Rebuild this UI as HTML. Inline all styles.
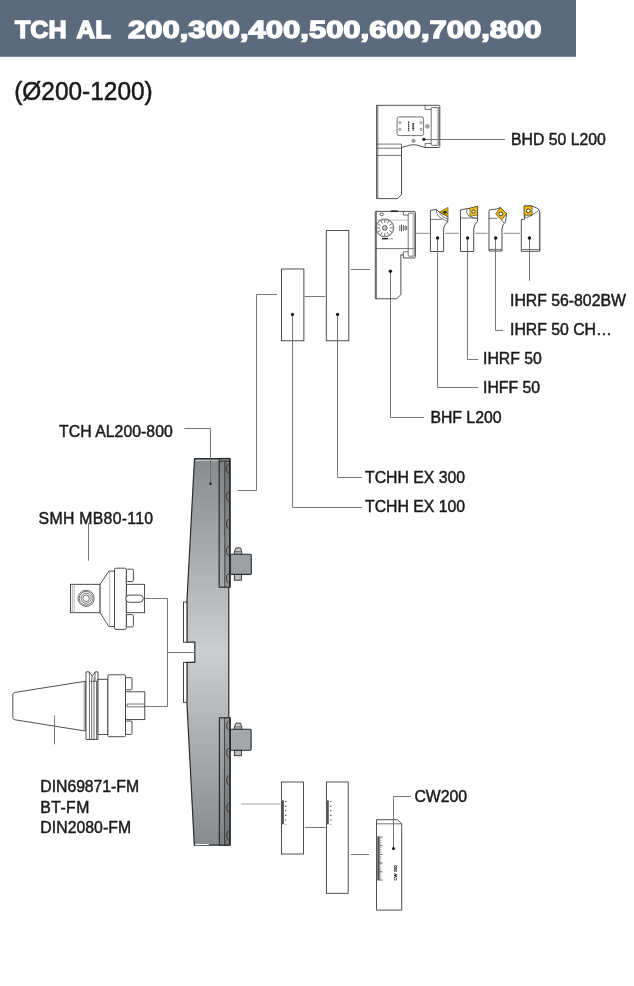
<!DOCTYPE html>
<html>
<head>
<meta charset="utf-8">
<title>TCH AL</title>
<style>
html,body{margin:0;padding:0;background:#fff;}
body{width:634px;height:986px;overflow:hidden;position:relative;font-family:"Liberation Sans",sans-serif;}
svg{will-change:transform;position:absolute;left:0;top:0;display:block;}
text{font-family:"Liberation Sans",sans-serif;}
.lbl{font-size:15.8px;fill:#1a1a1a;stroke:#1a1a1a;stroke-width:0.45px;}
.ln{stroke:#6a6a6a;stroke-width:0.9;fill:none;}
.lg{stroke:#a4a4a4;stroke-width:1.2;fill:none;}
.ol{stroke:#303030;stroke-width:0.85;fill:#fff;}
.ot{stroke:#3a3a3a;stroke-width:0.7;fill:none;}
.dot{fill:#1a1a1a;stroke:none;}
</style>
</head>
<body>
<svg width="634" height="986" viewBox="0 0 634 986">
<defs>
<linearGradient id="gBody" x1="0" y1="458" x2="0" y2="846" gradientUnits="userSpaceOnUse">
<stop offset="0" stop-color="#878b8e"/>
<stop offset="0.5" stop-color="#cbcdce"/>
<stop offset="1" stop-color="#878b8e"/>
</linearGradient>
<linearGradient id="gPlateT" x1="0" y1="458" x2="0" y2="588" gradientUnits="userSpaceOnUse">
<stop offset="0" stop-color="#7d8184"/>
<stop offset="1" stop-color="#a9acae"/>
</linearGradient>
<linearGradient id="gPlateB" x1="0" y1="718" x2="0" y2="846" gradientUnits="userSpaceOnUse">
<stop offset="0" stop-color="#a9acae"/>
<stop offset="1" stop-color="#7d8184"/>
</linearGradient>
</defs>

<!-- HEADER -->
<rect x="0" y="0" width="576" height="56.8" fill="#5b6b7d"/>
<g id="hdr" font-size="23" font-weight="bold" fill="#fff" stroke="#fff" stroke-width="1.3" stroke-linejoin="miter">
<text x="15" y="37.7" textLength="51.6" lengthAdjust="spacingAndGlyphs">TCH</text>
<text x="76.6" y="37.7" textLength="34.4" lengthAdjust="spacingAndGlyphs">AL</text>
<text x="128" y="37.7" font-size="23.6" textLength="413.5" lengthAdjust="spacingAndGlyphs">200,300,400,500,600,700,800</text>
</g>
<text id="sub" x="14.2" y="100.1" font-size="25.2" fill="#1a1a1a" stroke="#1a1a1a" stroke-width="0.5" textLength="138.5" lengthAdjust="spacingAndGlyphs">(Ø200-1200)</text>

<!-- LABELS -->
<g class="lbl">
<text x="511" y="144.7">BHD 50 L200</text>
<text x="510" y="306.3">IHRF 56-802BW</text>
<text x="510" y="335.2">IHRF 50 CH…</text>
<text x="483" y="364.0">IHRF 50</text>
<text x="483" y="392.7">IHFF 50</text>
<text x="430.4" y="423.3">BHF L200</text>
<text x="365" y="483.0">TCHH EX 300</text>
<text x="365" y="512.0">TCHH EX 100</text>
<text x="59" y="437.2" textLength="113.8" lengthAdjust="spacing">TCH AL200-800</text>
<text x="38.6" y="523.8" textLength="114.5" lengthAdjust="spacing">SMH MB80-110</text>
<text x="40.3" y="791.9" textLength="98.8" lengthAdjust="spacing">DIN69871-FM</text>
<text x="40.3" y="812.5" textLength="49" lengthAdjust="spacing">BT-FM</text>
<text x="40.3" y="832.8" textLength="90.8" lengthAdjust="spacing">DIN2080-FM</text>
<text x="414.4" y="802.1">CW200</text>
</g>

<!-- MAIN DISK -->
<g id="disk">
<path d="M194.5 458.6H228.8V845.1H194.3L186.9 702.5V662.3H194.8V642.1H186.9V602Z" fill="url(#gBody)" stroke="#2b2b2b" stroke-width="1.2"/>
<rect x="183.5" y="602" width="3.4" height="40.2" fill="#fff" stroke="#2b2b2b" stroke-width="0.9"/>
<rect x="183.5" y="662.5" width="3.4" height="39.8" fill="#fff" stroke="#2b2b2b" stroke-width="0.9"/>
<rect x="219.2" y="458.5" width="10.6" height="128.7" fill="url(#gPlateT)" stroke="#2b2b2b" stroke-width="1.2"/>
<rect x="224.8" y="461" width="5" height="126.2" fill="#000" fill-opacity="0.1" stroke="none"/>
<path d="M224.8 461V587.2M219.2 461H229" stroke="#2b2b2b" stroke-width="0.8" fill="none"/>
<path d="M229.9 459V587.2" stroke="#2b2b2b" stroke-width="1.6" fill="none"/>
<path d="M195.5 460.6H218.5" stroke="#c4c6c7" stroke-width="1" fill="none"/>
<rect x="219.4" y="717.8" width="10.6" height="127.4" fill="url(#gPlateB)" stroke="#2b2b2b" stroke-width="1.2"/>
<rect x="224.6" y="717.8" width="5.4" height="127.4" fill="#000" fill-opacity="0.1" stroke="none"/>
<path d="M224.6 717.8V845.2" stroke="#2b2b2b" stroke-width="0.8" fill="none"/>
<path d="M230.1 717.8V845.2" stroke="#2b2b2b" stroke-width="1.4" fill="none"/>
<path d="M195.2 844.5H208.8" stroke="#fff" stroke-width="1" fill="none"/>
<g stroke="#2b2b2b" stroke-width="0.9" fill="none">
<path d="M229.4 464.2A2.9 4.6 0 0 0 229.4 473.4M229.4 491.9A2.9 4.6 0 0 0 229.4 501.1M229.4 519.2A2.9 4.6 0 0 0 229.4 528.4M229.4 546.2A2.9 4.6 0 0 0 229.4 555.4M229.4 573.7A2.9 4.6 0 0 0 229.4 582.9"/>
<path d="M229.6 720.9A2.9 4.6 0 0 0 229.6 730.1M229.6 748.2A2.9 4.6 0 0 0 229.6 757.4M229.6 775.7A2.9 4.6 0 0 0 229.6 784.9M229.6 803.2A2.9 4.6 0 0 0 229.6 812.4M229.6 830.6A2.9 4.6 0 0 0 229.6 839.8"/>
</g>
<!-- blocks -->
<path d="M236 547.9H240.5L241.8 551.8V554.3H234.3V551.8Z" fill="#c6c8c9" stroke="#2b2b2b" stroke-width="0.9"/>
<path d="M235 551.8H241.2" stroke="#2b2b2b" stroke-width="0.7" fill="none"/>
<rect x="234.4" y="574.3" width="7" height="5.9" fill="#b9bbbd" stroke="#2b2b2b" stroke-width="0.9"/>
<rect x="230.4" y="554.3" width="20.9" height="20.1" rx="1.2" fill="#9da1a4" stroke="#2b2b2b" stroke-width="1.1"/>
<path d="M236 723.2H240.5L241.8 726.9V729.3H234.3V726.9Z" fill="#c6c8c9" stroke="#2b2b2b" stroke-width="0.9"/>
<path d="M235 726.9H241.2" stroke="#2b2b2b" stroke-width="0.7" fill="none"/>
<rect x="234.4" y="750.2" width="7" height="5.5" fill="#b9bbbd" stroke="#2b2b2b" stroke-width="0.9"/>
<rect x="230.4" y="729.2" width="20.7" height="21" rx="1.2" fill="#a5a8ab" stroke="#2b2b2b" stroke-width="1.1"/>
</g>

<!-- TCHH rectangles -->
<g class="ol">
<rect x="281.5" y="269" width="22.4" height="71.8"/>
<rect x="326.3" y="230.4" width="22.5" height="110.4"/>
<rect x="281.4" y="782" width="22.1" height="72"/>
<rect x="326.4" y="782" width="21.8" height="111.3"/>
</g>


<!-- BHD 50 L200 -->
<g id="bhd">
<path d="M376.6 105.3H438.8Q439.8 105.3 439.8 106.3V146.5Q439.8 147.5 438.8 147.5H424.9L421 146.3Q413.5 143.2 406 146.3L401.5 147.5V194.5L397.5 198.6H376.6Z" class="ol"/>
<path d="M377.8 105.3V198.6" class="ot" stroke-width="0.6"/>
<path d="M376.6 144.1H401.5M376.6 148.2H401.5M376.6 155.4H401.5" class="ot"/>
<path d="M401.5 147.5V144.1" class="ot"/>
<path d="M425.1 105.3V109.4H431.2M425.1 147.5V143.4H431.2" class="ot"/>
<rect x="431.2" y="107.5" width="7.6" height="37.8" class="ot" rx="0.8"/>
<path d="M437.4 108V145" stroke="#9a9a9a" stroke-width="0.6" fill="none"/>
<rect x="397.1" y="116.9" width="26.5" height="18.7" rx="2" class="ot"/>
<g fill="none" stroke="#444" stroke-width="0.6">
<circle cx="399.9" cy="122.6" r="1.1"/><circle cx="399.9" cy="129.5" r="1.1"/>
<circle cx="421.1" cy="122.6" r="1.1"/><circle cx="421.1" cy="129.5" r="1.1"/>
<circle cx="427.4" cy="126.4" r="1.8"/><circle cx="427.4" cy="126.4" r="0.8"/>
<circle cx="413.5" cy="140.9" r="1.6"/><circle cx="413.5" cy="140.9" r="0.7"/>
</g>
<path d="M408.6 121.5V131.2" stroke="#333" stroke-width="1.3" stroke-dasharray="1.6 0.5" fill="none"/>
<path d="M413.2 123V130.5" stroke="#333" stroke-width="1.8" stroke-dasharray="1.2 0.4" fill="none"/>
</g>

<!-- BHF L200 -->
<g id="bhf">
<path d="M375.3 211.4H414.2Q415.4 211.4 415.4 212.6V256.8Q415.4 258 414.2 258H403.4V254.9H400.9V294.6L396.5 298.8H375.3Z" class="ol"/>
<path d="M376.4 211.4V298.8" class="ot" stroke-width="0.6"/>
<path d="M403.4 211.4V215.1H408.2M403.4 254.9V251.8H408.2" class="ot"/>
<rect x="408.2" y="213.2" width="6" height="43" class="ot" rx="0.8"/>
<path d="M413 214V256" stroke="#9a9a9a" stroke-width="0.6" fill="none"/>
<path d="M375.3 248.6H413.5" class="ot"/>
<path d="M376.4 220.2H408.2" stroke="#aaa" stroke-width="0.7" fill="none"/>
<path d="M390.8 211.2H397.8" stroke="#222" stroke-width="1.6" fill="none"/>
<ellipse cx="381.7" cy="214.4" rx="2" ry="1.3" class="ot" stroke-width="0.6"/>
<circle cx="384.8" cy="227.9" r="9" class="ot"/>
<circle cx="384.8" cy="227.9" r="8.3" fill="none" stroke="#777" stroke-width="0.4"/>
<path d="M389.80 227.90L392.80 227.90M389.13 230.40L391.73 231.90M387.30 232.23L388.80 234.83M384.80 232.90L384.80 235.90M382.30 232.23L380.80 234.83M380.47 230.40L377.87 231.90M379.80 227.90L376.80 227.90M380.47 225.40L377.87 223.90M382.30 223.57L380.80 220.97M384.80 222.90L384.80 219.90M387.30 223.57L388.80 220.97M389.13 225.40L391.73 223.90" stroke="#333" stroke-width="0.7" fill="none"/>
<circle cx="384.8" cy="227.9" r="2.3" fill="#fff" stroke="#333" stroke-width="0.9"/>
<circle cx="384.8" cy="227.9" r="0.9" fill="none" stroke="#555" stroke-width="0.4"/>
<path d="M382 238.7H388" stroke="#222" stroke-width="1.4" fill="none"/>
<path d="M388.6 238.9H393.3" stroke="#555" stroke-width="0.8" stroke-dasharray="0.8 0.4" fill="none"/>
<path d="M399.8 225.5V231M401.5 224.5V231.5M403.3 225V231M405 225.5V230.5M406.6 226V230" stroke="#333" stroke-width="0.8" fill="none"/>
</g>

<!-- INSERT HOLDERS -->
<g id="ins">
<!-- 1 IHFF 50 -->
<path d="M430.4 210.4L436.4 209.4L439.2 212.1L448 216.6L447.7 221.8Q444 224.5 443.6 229V251.5H430.4Z" class="ol"/>
<path d="M430.4 219.4H441.6" class="ot"/>
<path d="M436.4 209.4Q436.3 215.6 441 218Q444.5 219.8 447.7 221.8" class="ot" stroke-width="0.7"/>
<path d="M439.6 213.2Q442.2 217.2 447.6 219.2" class="ot" stroke-width="0.6"/>
<path d="M439.2 212.1L448 207.4V216.7Z" fill="#f5c21b" stroke="#4a3d00" stroke-width="0.6"/>
<path d="M441.6 212.2L446.7 209.5V215Z" fill="none" stroke="#6a5800" stroke-width="0.4"/>
<ellipse cx="444.9" cy="212.3" rx="1.8" ry="1.4" fill="#2a2a2a"/>
<!-- 2 IHRF 50 -->
<path d="M460.5 209.9L466.6 208.7L469.7 208.3L477.6 206.4L477.5 218.5V221.3Q474 224.5 473.7 229V251.5H460.5Z" class="ol"/>
<path d="M460.5 218H476.6" class="ot"/>
<path d="M466.6 208.7Q466.3 213.5 468 215.3Q469 216.4 470 216.3" class="ot" stroke-width="0.7"/>
<path d="M470 216.3Q473.5 218.5 477.5 218.6" class="ot" stroke-width="0.6"/>
<path d="M469.7 208.3L477.6 206.4L477.3 215.1L470 216.1Z" fill="#f5c21b" stroke="#4a3d00" stroke-width="0.6"/>
<circle cx="473.5" cy="211.5" r="1.6" fill="#fff" stroke="#333" stroke-width="1"/>
<!-- 3 IHRF 50 CH -->
<path d="M489.7 210L496.5 209L500.2 207.6L506.5 213.6L505.5 221.8Q502.3 224.5 502 229V251H489V210.8Q489 210 489.7 210Z" class="ol"/>
<path d="M489 249.4H502" class="ot" stroke-width="0.6"/>
<path d="M489 218.3H497.3" class="ot"/>
<path d="M501.7 219.9L504 223" class="ot" stroke-width="0.7"/>
<path d="M500.2 207.6L506.5 213.6L501.7 219.9L495.7 214.2Z" fill="#f5c21b" stroke="#3a3200" stroke-width="0.7"/>
<circle cx="500.9" cy="213.9" r="1.9" fill="#fff" stroke="#2a2a2a" stroke-width="0.9"/>
<!-- 4 IHRF 56-802BW -->
<path d="M521.3 219.4H524.4V206H532L537.5 208.4Q539.6 209.5 539.6 212V251.3H521.3Z" class="ol"/>
<path d="M521.3 249.5H539.6" class="ot" stroke-width="0.6"/>
<path d="M540.6 212V251" stroke="#aaa" stroke-width="0.7" fill="none"/>
<path d="M524.4 215.2L526 218L532 215.2L538.6 210.5" class="ot" stroke-width="0.7"/>
<path d="M524.1 206H532V215.2H524.1Z" fill="#f5c21b" stroke="#3a3200" stroke-width="0.7"/>
<circle cx="528.3" cy="210.8" r="1.9" fill="#fff" stroke="#2a2a2a" stroke-width="0.9"/>
</g>

<!-- SMH MB80-110 -->
<g id="smh">
<rect x="70.4" y="584.3" width="29.7" height="28.4" class="ol"/>
<path d="M72.3 584.3V612.7M74.2 584.3V612.7" stroke="#888" stroke-width="0.6" fill="none"/>
<circle cx="86.1" cy="598.3" r="8.1" class="ot"/>
<circle cx="86.1" cy="598.3" r="6.9" class="ot" stroke-width="0.6"/>
<circle cx="86.1" cy="598.3" r="5" class="ot" stroke-width="0.7"/>
<circle cx="86.1" cy="598.3" r="3.2" class="ot" stroke-width="0.7"/>
<path d="M100.1 584.3L108.8 571.1H114.5V626.5H108.8L100.1 612.7Z" class="ol"/>
<path d="M109.7 571.1V626.5" stroke="#888" stroke-width="0.6" fill="none"/>
<rect x="126.3" y="569.2" width="7.1" height="12.3" rx="1.2" class="ol"/>
<rect x="126.3" y="614.6" width="7.1" height="12.3" rx="1.2" class="ol"/>
<rect x="126.3" y="584.3" width="18.3" height="28.4" class="ol"/>
<rect x="114.5" y="568.2" width="11.8" height="61.2" rx="1.5" class="ol"/>
<rect x="125.7" y="595.1" width="17.6" height="7.2" rx="3.6" class="ol"/>
</g>

<!-- DIN69871 holder -->
<g id="din">
<path d="M85.2 681.3L15 692.4Q12.8 692.8 12.8 695V717.4Q12.8 719.4 15 719.8L85.2 731Z" class="ol"/>
<path d="M83.9 681.6V730.7" stroke="#888" stroke-width="0.6" fill="none"/>
<path d="M86 671.9H89.4L92.2 676.5L95.1 671.9H98V739.5H86Z" class="ol"/>
<path d="M89.4 671.9V739.5M91.7 677V739.5M94 677V739.5M95.1 671.9V681.3M96.5 681.3V739.5M89.4 681.3H98" class="ot" stroke-width="0.7"/>
<rect x="98" y="679.3" width="9.9" height="55.1" class="ol"/>
<rect x="125.5" y="677.6" width="6.5" height="12.2" rx="1" class="ol"/>
<rect x="125.5" y="721" width="6.5" height="13.4" rx="1" class="ol"/>
<rect x="125.5" y="691.8" width="19.3" height="27.8" class="ol"/>
<path d="M127 704H144.8M127 706.8H144.8M127 704V706.8" class="ot" stroke-width="0.7"/>
<rect x="107.9" y="674.8" width="17.6" height="61.9" rx="1" class="ol"/>
</g>

<!-- CW200 & scales -->
<g id="cw">
<path d="M376.5 819.7H397.4L401.7 823.8V910.1H376.5Z" class="ol"/>
<path d="M376.5 823.8H401.7" class="ot"/>
<rect x="377.3" y="836.4" width="2.4" height="44.1" fill="#555"/>
<path d="M379.7 837H382.6M379.7 845.7H382.6M379.7 854.4H382.6M379.7 863.1H382.6M379.7 871.8H382.6M379.7 880H382.6" stroke="#444" stroke-width="0.8" fill="none"/>
<path d="M379.7 838.5V880" stroke="#666" stroke-width="1.6" stroke-dasharray="0.5 1.24" fill="none" transform="translate(0.8 0)"/>
<text x="0" y="0" transform="translate(397 880.5) rotate(-90)" font-size="4.2" fill="#111" stroke="#111" stroke-width="0.15">CW 200</text>
<rect x="281.6" y="800.3" width="2.3" height="24" fill="#555"/>
<path d="M285.7 801V824.5" stroke="#333" stroke-width="1.2" stroke-dasharray="1.1 3.5" fill="none"/>
<rect x="326.5" y="800.3" width="2.3" height="24" fill="#555"/>
<path d="M330.8 801V824.5" stroke="#333" stroke-width="1.2" stroke-dasharray="1.1 3.5" fill="none"/>
</g>
<!-- LEADER / CONNECTOR LINES -->
<g class="lg">
<path d="M415.8 233.3H429.4M445.2 233.3H458.9M475.2 233.3H487.6M503.6 233.3H519.8"/>
<path d="M241.2 804H280.2"/>
</g>
<g class="ln">
<path d="M424 139.5H505"/>
<path d="M529.5 238V280.8"/>
<path d="M495.5 238V330.5H503"/>
<path d="M467.5 238V359.5H478.2"/>
<path d="M437.5 238V387.5H478.2"/>
<path d="M390.5 271V417.5H424"/>
<path d="M337.5 314.4V477.5H362"/>
<path d="M292.5 314.4V507.5H362"/>
<path d="M237.5 490.5H256.5V294.5H277"/>
<path d="M304.7 296.5H325.2"/>
<path d="M350.7 269.5H369.8"/>
<path d="M184.3 428.5H210.5V483"/>
<path d="M88.5 523V560.7"/>
<path d="M54.5 715.4V744.3"/>
<path d="M144.6 598.5H167.5V706.5H144.8"/>
<path d="M167.5 652.5H194.5"/>
<path d="M304.8 827.5H325.5"/>
<path d="M350.8 854.5H369.2"/>
<path d="M393.5 848.5V796.5H410.8"/>
</g>
<g id="dots">
<circle class="dot" cx="423.9" cy="139.3" r="1.6"/>
<circle class="dot" cx="390.4" cy="271.3" r="1.7"/>
<circle class="dot" cx="437.6" cy="238" r="1.7"/>
<circle class="dot" cx="467.6" cy="238" r="1.7"/>
<circle class="dot" cx="495.7" cy="238" r="1.7"/>
<circle class="dot" cx="529.4" cy="238" r="1.7"/>
<circle class="dot" cx="292.5" cy="314.4" r="1.7"/>
<circle class="dot" cx="337.6" cy="314.4" r="1.7"/>
<circle class="dot" cx="210.5" cy="483.8" r="1.2"/>
<circle class="dot" cx="393.5" cy="848.5" r="1.6"/>
</g>
</svg>
</body>
</html>
